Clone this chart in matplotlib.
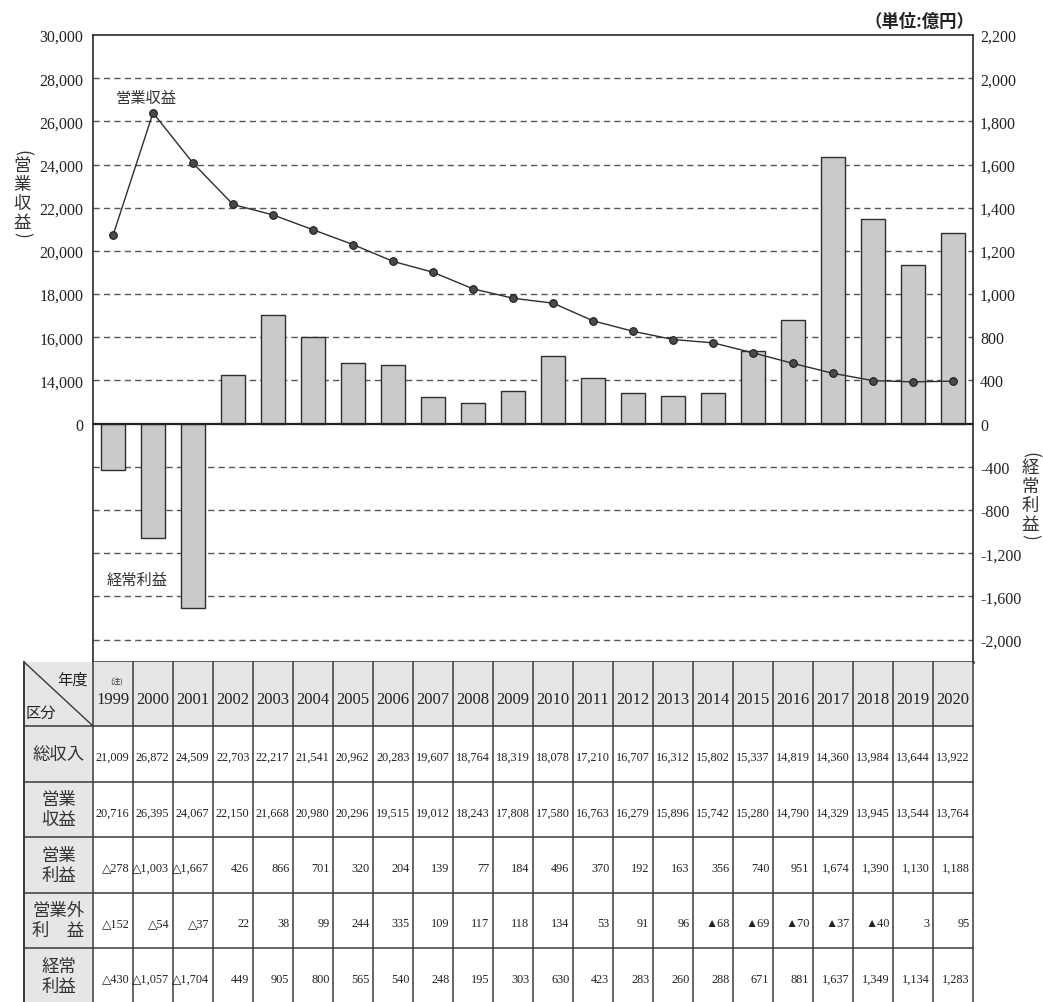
import numpy as np
import matplotlib
matplotlib.use("Agg")
import matplotlib.pyplot as plt
from matplotlib.patches import Rectangle

plt.rcParams["font.family"] = ["Liberation Serif", "Noto Sans CJK JP", "DejaVu Sans"]
JP = ["Noto Sans CJK JP", "DejaVu Sans"]
NUM = ["Liberation Serif", "DejaVu Sans"]

# data

years = [str(y) for y in range(1999, 2021)]
total_income = [21009, 26872, 24509, 22703, 22217, 21541, 20962, 20283, 19607, 18764, 18319,
                18078, 17210, 16707, 16312, 15802, 15337, 14819, 14360, 13984, 13644, 13922]
op_revenue = [20716, 26395, 24067, 22150, 21668, 20980, 20296, 19515, 19012, 18243, 17808,
              17580, 16763, 16279, 15896, 15742, 15280, 14790, 14329, 13945, 13544, 13764]
op_profit = [-278, -1003, -1667, 426, 866, 701, 320, 204, 139, 77, 184,
             496, 370, 192, 163, 356, 740, 951, 1674, 1390, 1130, 1188]
non_op_profit = [-152, -54, -37, 22, 38, 99, 244, 335, 109, 117, 118,
                 134, 53, 91, 96, -68, -69, -70, -37, -40, 3, 95]
non_op_marks = ["△"] * 15 + ["▲"] * 7
ordinary_profit = [-430, -1057, -1704, 449, 905, 800, 565, 540, 248, 195, 303,
                   630, 423, 283, 260, 288, 671, 881, 1637, 1349, 1134, 1283]

rev_ticks = [0, 14000, 16000, 18000, 20000, 22000, 24000, 26000, 28000, 30000]
prof_ticks = [-2000, -1600, -1200, -800, -400, 0, 400, 800, 1000, 1200, 1400, 1600, 1800, 2000, 2200]
row_labels = ["総収入", "営業\n収益", "営業\n利益", "営業外\n利　益", "経常\n利益"]


# broken scales (both axes share the same gridline spacing)

def rev_fwd(v):
    v = np.asarray(v, float)
    return np.where(v <= 14000, v / 14000, 1 + (v - 14000) / 2000)


def rev_inv(u):
    u = np.asarray(u, float)
    return np.where(u <= 1, u * 14000, 14000 + (u - 1) * 2000)


def prof_fwd(v):
    v = np.asarray(v, float)
    return np.where(v <= 800, v / 400, 2 + (v - 800) / 200)


def prof_inv(u):
    u = np.asarray(u, float)
    return np.where(u <= 2, u * 400, 800 + (u - 2) * 200)


def fmt(v, neg="△"):
    return f"{neg}{abs(v):,}" if v < 0 else f"{v:,}"


W, H = 1043, 1003
fig = plt.figure(figsize=(W / 100, H / 100), dpi=100)


def vlabel(xpx, ytop, chars, step=19, size=12.5):
    # vertical japanese label: brackets turned, one glyph per line
    fig.text(xpx / W, 1 - ytop / H, "(", ha="center", va="center", rotation=-90,
             fontsize=size, family=JP, color="#333333")
    y = ytop + 13
    for ch in chars:
        fig.text(xpx / W, 1 - y / H, ch, ha="center", va="center",
                 fontsize=size, family=JP, color="#333333")
        y += step
    fig.text(xpx / W, 1 - (y - step + 12) / H, ")", ha="center", va="center", rotation=-90,
             fontsize=size, family=JP, color="#333333")


ax = fig.add_axes([93 / W, 1 - 663 / H, 880 / W, (663 - 36) / H])
xs = np.arange(len(years))
ax.set_xlim(-0.5, len(years) - 0.5)

u_bottom = -5.52
ax.set_yscale("function", functions=(prof_fwd, prof_inv))
ax.set_ylim(float(prof_inv(u_bottom)), 2200)

for v in prof_ticks:
    if v in (0, 2200):
        continue
    ax.axhline(v, color="#555555", lw=1.0, ls=(0, (4.5, 3)), zorder=1)

ax.bar(xs, ordinary_profit, width=0.59, color="#c9cacc", edgecolor="#2e2e2e", lw=1.0, zorder=2)
ax.axhline(0, color="#222222", lw=1.6, zorder=3)

ax2 = ax.twinx()
ax2.set_yscale("function", functions=(rev_fwd, rev_inv))
ax2.set_ylim(float(rev_inv(u_bottom)), 30000)
ax2.plot(xs, op_revenue, color="#2e2e2e", lw=1.0, marker="o", ms=5.5,
         mfc="#4a4a4a", mec="#1e1e1e", mew=0.8, zorder=4)

ax.yaxis.tick_right()
ax2.yaxis.tick_left()
ax.set_yticks(prof_ticks)
ax.set_yticklabels([f"{v:,}" for v in prof_ticks])
ax2.set_yticks(rev_ticks)
ax2.set_yticklabels([f"{v:,}" for v in rev_ticks])
ax.tick_params(axis="y", which="both", length=0, pad=5, labelsize=11.5, colors="#222222")
ax2.tick_params(axis="y", which="both", length=0, pad=7, labelsize=11.5, colors="#222222")
ax.set_xticks([])
ax2.set_xticks([])
for s in ax.spines.values():
    s.set_color("#2a2a2a")
    s.set_linewidth(1.2)
ax.spines["bottom"].set_linewidth(1.8)
for s in ax2.spines.values():
    s.set_visible(False)

ax.text(0.060, 0.901, "営業収益", transform=ax.transAxes, ha="center", va="center",
        fontsize=11, family=JP, color="#333333")
ax.text(0.0505, 0.132, "経常利益", transform=ax.transAxes, ha="center", va="center",
        fontsize=11, family=JP, color="#333333")

fig.text(974 / W, 1 - 22 / H, "（単位:億円）", ha="right", va="center", fontsize=12.5,
         fontweight="bold", family=JP, color="#222222")
vlabel(22, 153, "営業収益")
vlabel(1030, 455, "経常利益")

# table

tab = fig.add_axes([24 / W, 0, 949 / W, 340 / H])
tab.set_xlim(-2.225, len(years) - 0.5)
tab.set_ylim(340, 0)
tab.axis("off")

bounds = [0, 64, 119.5, 175, 230.5, 286, 341.5]
x_left, x_right = -2.225, len(years) - 0.5
tab.add_patch(Rectangle((x_left, 0), x_right - x_left, bounds[1], fc="#e6e6e7", ec="none"))
tab.add_patch(Rectangle((x_left, bounds[1]), -0.5 - x_left, 400, fc="#e6e6e7", ec="none"))

lc, lw = "#3a3a3a", 1.1
for yb in bounds[1:-1]:
    tab.plot([x_left, x_right], [yb, yb], color=lc, lw=lw, clip_on=False)
tab.plot([x_left, x_left], [0, 345], color=lc, lw=1.4, clip_on=False)
for i in range(len(years) + 1):
    tab.plot([i - 0.5, i - 0.5], [0, 345], color=lc, lw=lw, clip_on=False)
tab.plot([x_left, -0.5], [0, bounds[1]], color=lc, lw=1.0)

tab.text(-1.0, 17, "年度", ha="center", va="center", fontsize=11, family=JP, color="#222222")
tab.text(-1.8, 50, "区分", ha="center", va="center", fontsize=11, family=JP, color="#222222")
for i, y in enumerate(years):
    tab.text(i, 37, y, ha="center", va="center", fontsize=12, color="#222222")
tab.text(0.1, 19, "(注)", ha="center", va="center", fontsize=5.5, family=JP, color="#333333")

rows = [
    [fmt(v) for v in total_income],
    [fmt(v) for v in op_revenue],
    [fmt(v) for v in op_profit],
    [fmt(v, m) for v, m in zip(non_op_profit, non_op_marks)],
    [fmt(v) for v in ordinary_profit],
]
for r, (label, cells) in enumerate(zip(row_labels, rows)):
    yc = (bounds[r + 1] + bounds[r + 2]) / 2
    tab.text(-1.3625, yc, label, ha="center", va="center", fontsize=12.5, family=JP,
             color="#333333", linespacing=1.15)
    for i, s in enumerate(cells):
        tab.text(i + 0.5 - 0.09, yc + 3, s, ha="right", va="center", fontsize=8.8,
                 family=NUM, color="#222222")

fig.savefig("out.png", dpi=100)
